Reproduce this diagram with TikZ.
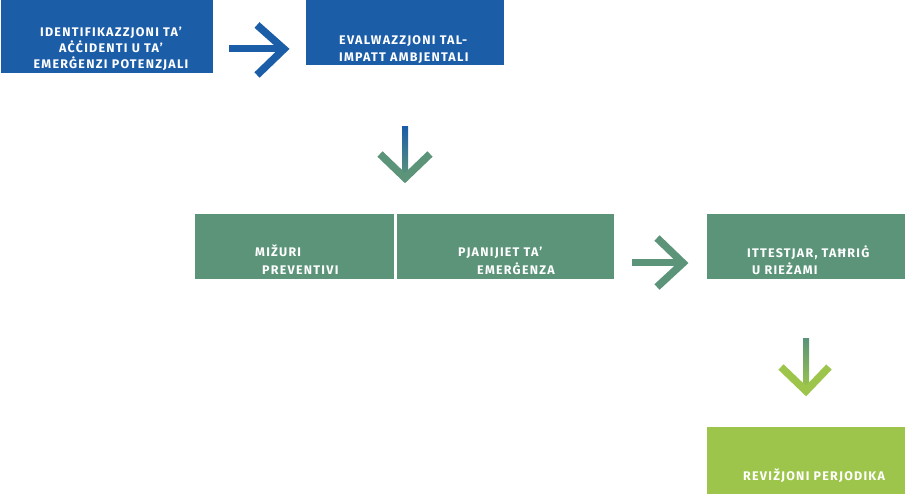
\documentclass[tikz,border=0pt]{standalone}
\usepackage{fontspec}
\setmainfont{Fira Sans}
\newfontfamily\lblfont{Fira Sans}[LetterSpace=10]
\definecolor{cblue}{HTML}{1C5DA8}
\definecolor{cgreen}{HTML}{5B9479}
\definecolor{clime}{HTML}{9DC54B}
\begin{document}
\begin{tikzpicture}[x=1pt,y=-1pt,
  box/.style={draw=none,rectangle,inner sep=0pt,anchor=north west},
  bluebox/.style={box,fill=cblue},
  greenbox/.style={box,fill=cgreen},
  limebox/.style={box,fill=clime},
  lbl/.style={text=white,inner sep=0pt,font=\lblfont\fontsize{12.5}{15}\selectfont\bfseries},
  shaft/.style={line width=7pt},
  chev/.style={line width=7.5pt,miter limit=10,line join=miter}]
\useasboundingbox (0,0) rectangle (905,494);
% boxes
\node[bluebox,minimum width=212pt,minimum height=73pt] (b1) at (1,0) {};
\node[bluebox,minimum width=198pt,minimum height=65pt] (b2) at (306,0) {};
\node[greenbox,minimum width=199pt,minimum height=65pt] (b3) at (195,214) {};
\node[greenbox,minimum width=217pt,minimum height=65pt] (b4) at (397,214) {};
\node[greenbox,minimum width=198pt,minimum height=65pt] (b5) at (707,214) {};
\node[limebox,minimum width=198pt,minimum height=67pt] (b6) at (707,427) {};
% texts
\node[lbl,anchor=base] (t1a) at (111,37) {IDENTIFIKAZZJONI TA’};
\node[lbl,anchor=base] (t1b) at (111,53) {AĊĊIDENTI U TA’};
\node[lbl,anchor=base] (t1c) at (111,69) {EMERĠENZI POTENZJALI};
\node[lbl,anchor=base west] (t2a) at (339,45) {EVALWAZZJONI TAL-};
\node[lbl,anchor=base west] (t2b) at (339,62) {IMPATT AMBJENTALI};
\node[lbl,anchor=base west] (t3a) at (255,257) {MIŽURI};
\node[lbl,anchor=base west] (t3b) at (262,275) {PREVENTIVI};
\node[lbl,anchor=base west] (t4a) at (458,257) {PJANIJIET TA’};
\node[lbl,anchor=base west] (t4b) at (477,275) {EMERĠENZA};
\node[lbl,anchor=base west] (t5a) at (747,258) {ITTESTJAR, TAĦRIĠ};
\node[lbl,anchor=base west] (t5b) at (752,275) {U RIEŻAMI};
\node[lbl,anchor=base west] (t6a) at (743,480) {REVIŽJONI PERJODIKA};
% arrow 1 (blue, horizontal)
\coordinate (a1s) at (229,49);
\coordinate (a1e) at (283,49);
\draw[shaft,cblue] (a1s) -- (a1e);
\draw[chev,cblue] (257,25) -- (284,49) -- (257,75);
% arrow 2 (down, blue to green)
\shade[top color=cblue,bottom color=cgreen] (402,127) rectangle (408,176);
\draw[chev,cgreen] (380,154) -- (405,178) -- (430,154);
% arrow 3 (green, horizontal)
\coordinate (a3s) at (632,263);
\coordinate (a3e) at (682,263);
\draw[shaft,cgreen] (a3s) -- (a3e);
\draw[chev,cgreen] (657,238) -- (683,263) -- (657,287);
% arrow 4 (down, green to lime)
\shade[top color=cgreen,bottom color=clime] (803,339) rectangle (809,390);
\draw[chev,clime] (781,367) -- (806,391) -- (829,367);
\end{tikzpicture}
\end{document}
